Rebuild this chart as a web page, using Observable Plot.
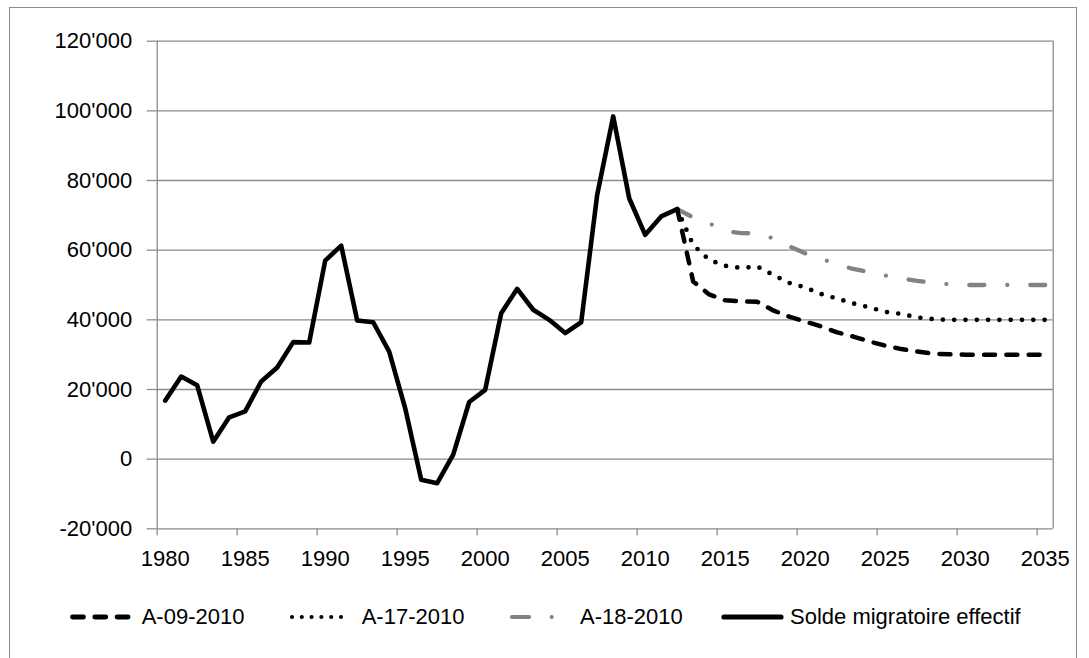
<!DOCTYPE html>
<html>
<head>
<meta charset="utf-8">
<script src="https://cdn.jsdelivr.net/npm/d3@7"></script>
<script src="https://cdn.jsdelivr.net/npm/@observablehq/plot@0.6"></script>
<style>
  html, body { margin: 0; padding: 0; background: #fff; }
  #wrap { position: relative; width: 1089px; height: 658px; overflow: hidden; font-family: "Liberation Sans", Arial, sans-serif; }
  #border { position: absolute; left: 9px; top: 7px; width: 1068px; height: 700px; border: 1.3px solid #8c8c8c; box-sizing: border-box; }
  #chart { position: absolute; left: 0; top: 0; }
  .lg { position: absolute; top: 600px; height: 34px; line-height: 34px; font-size: 22px; color: #000; white-space: nowrap; }
  .sw { position: absolute; top: 600px; }
</style>
</head>
<body>
<div id="wrap">
  <div id="border"></div>
  <div id="chart"></div>
  <div id="legend"></div>
</div>
<script>
// ---- data ----
const histYears = [1980,1981,1982,1983,1984,1985,1986,1987,1988,1989,1990,1991,1992,1993,1994,1995,1996,1997,1998,1999,2000,2001,2002,2003,2004,2005,2006,2007,2008,2009,2010,2011,2012];
const histValues = [16800,23700,21200,5000,12000,13700,22300,26300,33600,33500,57000,61300,39800,39300,30900,14600,-5900,-6900,1300,16400,19900,41900,48900,42900,40000,36200,39300,75900,98400,74900,64400,69700,71800];

const projYears = [2012,2013,2014,2015,2016,2017,2018,2019,2020,2021,2022,2023,2024,2025,2026,2027,2028,2029,2030,2031,2032,2033,2034,2035];
const a09 = [71800,51000,47300,45600,45300,45200,42700,40900,39500,38100,36400,35200,33800,32600,31600,30900,30300,30100,30000,30000,30000,30000,30000,30000];
const a17 = [71800,61500,57200,55500,54900,55300,52900,50600,49300,47400,46100,44700,43600,42300,41700,40700,40200,40000,40000,40000,40000,40000,40000,40000];
const a18 = [71800,69400,67700,65500,64900,64800,63400,61100,59100,57500,55900,54600,53700,52700,51900,51200,50600,50200,50000,50000,50000,50000,50000,50000];

const seriesNames = ["A-09-2010", "A-17-2010", "A-18-2010", "Solde migratoire effectif"];
const xTickYears = [1980,1985,1990,1995,2000,2005,2010,2015,2020,2025,2030,2035];
const yTicks = [-20000,0,20000,40000,60000,80000,100000,120000];
const firstYear = 1980, lastYear = 2035;

// ---- tables ----
const hist = histYears.map((year, i) => ({year, value: histValues[i]}));
const mk = arr => projYears.map((year, i) => ({year, value: arr[i]}));
const d09 = mk(a09), d17 = mk(a17), d18 = mk(a18);

const fmt = d => d3.format(",")(d).replace(/,/g, "'").replace("\u2212", "-");
const gridColor = "#8c8c8c";
const FONT = "Liberation Sans, Arial, sans-serif";

const st = {
  s09: {stroke: "black", strokeWidth: 4.5, strokeDasharray: "11,11.3", strokeLinecap: "round"},
  s17: {stroke: "black", strokeWidth: 4.7, strokeDasharray: "0,11.3", strokeLinecap: "round"},
  s18: {stroke: "#828282", strokeWidth: 4.3, strokeDasharray: "15,23,0,23", strokeLinecap: "round"},
  sH:  {stroke: "black", strokeWidth: 4.6, strokeLinejoin: "round", strokeLinecap: "round"}
};

const xDomain = [firstYear - 0.5, lastYear + 0.5];

const chart = Plot.plot({
  width: 1089,
  height: 580,
  marginLeft: 156.7,
  marginRight: 36.3,
  marginTop: 40.7,
  marginBottom: 51.7,
  style: {fontFamily: FONT, fontSize: "22px", background: "transparent", overflow: "visible"},
  x: {domain: xDomain, axis: null, label: null},
  y: {domain: [yTicks[0], yTicks[yTicks.length - 1]], axis: null, label: null},
  marks: [
    Plot.gridY(yTicks, {stroke: gridColor, strokeOpacity: 1, strokeWidth: 1.3}),
    Plot.ruleX(xDomain, {stroke: gridColor, strokeWidth: 1.3}),
    Plot.axisY({ticks: yTicks, label: null, tickSize: 10, tickPadding: 15, tickFormat: fmt, stroke: gridColor, strokeWidth: 1.3, fill: "black", fontSize: 22, fontFamily: FONT}),
    Plot.axisX({ticks: xTickYears.map(y => y - 0.5), label: null, tickSize: 7, tickFormat: () => "", stroke: gridColor, strokeWidth: 1.3}),
    Plot.axisX({ticks: xTickYears, label: null, tickSize: 0, tickPadding: 22, tickFormat: d => String(d), fill: "black", fontSize: 22, fontFamily: FONT}),
    Plot.line(d18, {x: "year", y: "value", ...st.s18}),
    Plot.line(d17, {x: "year", y: "value", ...st.s17}),
    Plot.line(d09, {x: "year", y: "value", ...st.s09}),
    Plot.line(hist, {x: "year", y: "value", ...st.sH})
  ]
});
document.getElementById("chart").appendChild(chart);

// ---- legend ----
const legendItems = [
  {name: seriesNames[0], style: st.s09, x1: 72.5, x2: 129.5, text: 141.7, w: 4.8},
  {name: seriesNames[1], style: {...st.s17, strokeDasharray: "0,9.8"}, x1: 292, x2: 342, text: 361.7, w: 4.2},
  {name: seriesNames[2], style: {...st.s18, strokeDasharray: "17,22.7,0,100"}, x1: 512, x2: 552, text: 580, w: 4.2},
  {name: seriesNames[3], style: st.sH, x1: 724, x2: 781, text: 790, w: 5.2}
];
const legend = document.getElementById("legend");
legendItems.forEach(it => {
  const svg = d3.create("svg").attr("class", "sw").attr("width", 1089).attr("height", 34)
    .style("left", "0px").style("overflow", "visible");
  svg.append("line")
    .attr("x1", it.x1).attr("x2", it.x2).attr("y1", 17).attr("y2", 17)
    .attr("stroke", it.style.stroke).attr("stroke-width", it.w)
    .attr("stroke-dasharray", it.style.strokeDasharray || null)
    .attr("stroke-linecap", "round");
  legend.appendChild(svg.node());
  const t = document.createElement("div");
  t.className = "lg";
  t.style.left = it.text + "px";
  t.textContent = it.name;
  legend.appendChild(t);
});
</script>
</body>
</html>
